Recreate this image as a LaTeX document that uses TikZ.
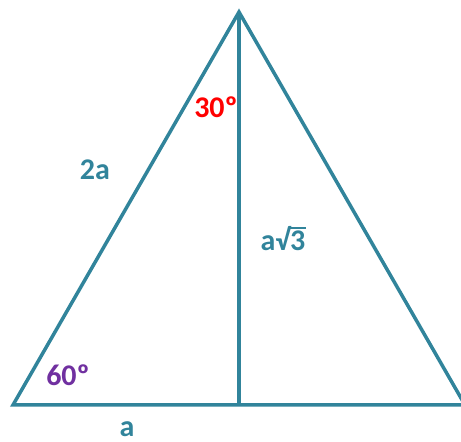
\documentclass[tikz,border=0pt]{standalone}
\usepackage{fontspec}
\setmainfont{Carlito}
\definecolor{teal1}{HTML}{31849B}
\definecolor{purp}{HTML}{7030A0}
\begin{document}
\begin{tikzpicture}[x=1pt,y=1pt,
  edge/.style={draw=teal1,line width=3.5pt},
  lbl/.style={font=\fontsize{30}{33}\selectfont\bfseries,inner sep=0pt}]
\useasboundingbox (0,0) rectangle (461,442);
\coordinate (A) at (239,430);
\coordinate (B) at (13,37);
\coordinate (C) at (465,37);
\coordinate (D) at (239,37);
\draw[edge] (B) -- (A) -- (C) -- cycle;
\draw[edge] (A) -- (D);
\node[lbl,text=red] (t30) at (216,335) {30º};
\node[lbl,text=purp] (t60) at (68,67) {60º};
\node[lbl,text=teal1] (t2a) at (95,272) {2a};
\node[lbl,text=teal1] (ts3) at (283,203) {a√\kern-1.2pt\rlap{\rule[22pt]{17pt}{2.2pt}}\kern1pt 3};
\node[lbl,text=teal1] (ta) at (127,13) {a};
\end{tikzpicture}
\end{document}
